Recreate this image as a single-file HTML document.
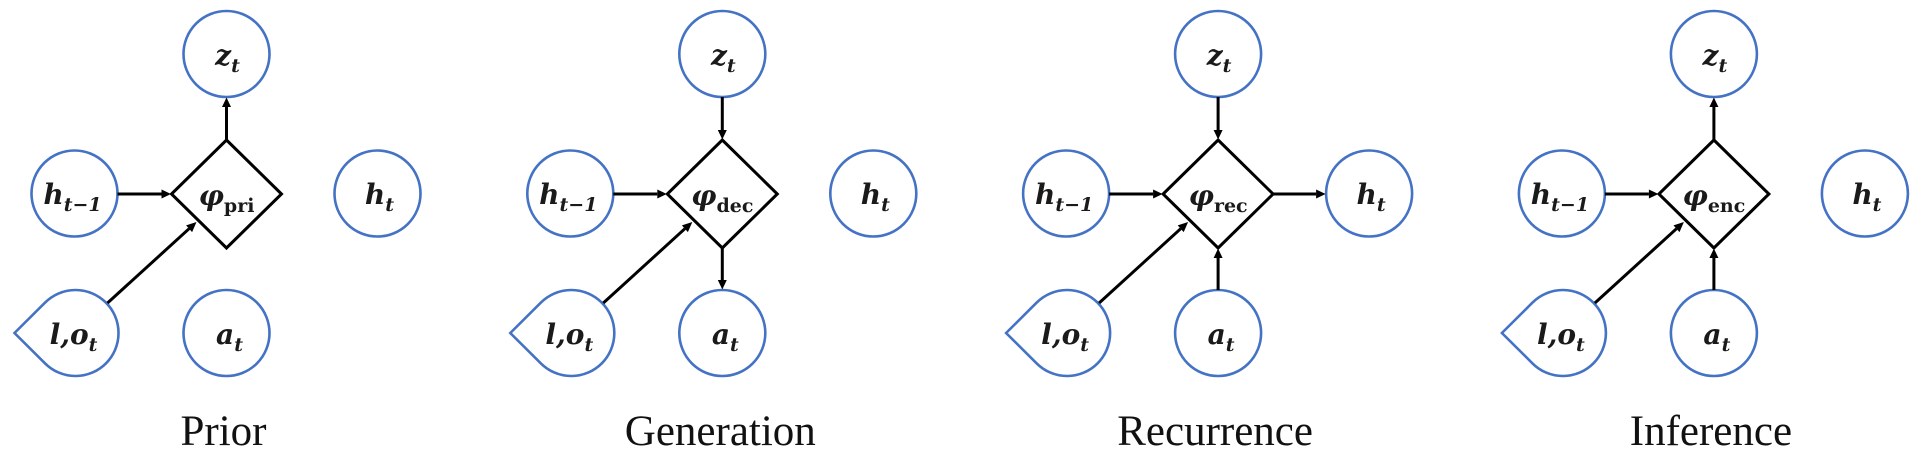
<!DOCTYPE html>
<html>
<head>
<meta charset="utf-8">
<style>
  html, body { margin: 0; padding: 0; background: #ffffff; }
  svg { display: block; }
  .c { fill: #ffffff; stroke: #4472C4; stroke-width: 2.6; }
  .d { fill: #ffffff; stroke: #000000; stroke-width: 3; stroke-linejoin: miter; }
  .l { stroke: #000000; stroke-width: 3; fill: none; }
  .h { fill: #000000; stroke: none; }
  .m { font-family: "DejaVu Serif", "Liberation Serif", serif; font-style: italic; font-weight: bold; font-size: 28px; fill: #1a1a1a; }
  .s { font-size: 19px; }
  .u { font-style: normal; }
  .cap { font-family: "Liberation Serif", serif; font-size: 43px; fill: #111111; }
</style>
</head>
<body>
<svg width="1921" height="460" viewBox="0 0 1921 460" xmlns="http://www.w3.org/2000/svg">
  <rect x="0" y="0" width="1921" height="460" fill="#ffffff"/>

  <!-- ===== Panel 1: Prior ===== -->
  <g transform="translate(226.5,0)">
    <circle class="c" cx="0" cy="54" r="43"/>
    <circle class="c" cx="-152" cy="193.5" r="43"/>
    <circle class="c" cx="151" cy="193.5" r="43"/>
    <circle class="c" cx="0" cy="333" r="43"/>
    <path class="c" d="M -212 333 L -181.4 302.6 A 43 43 0 1 1 -181.4 363.4 Z"/>
    <path class="d" d="M 0 140 L 55 194 L 0 248 L -55 194 Z"/>
    <line class="l" x1="-109" y1="194" x2="-65" y2="194"/>
    <polygon class="h" points="-55.5,194 -65,189.5 -65,198.5"/>
    <line class="l" x1="-119" y1="303" x2="-37.4" y2="228.7"/>
    <polygon class="h" points="-30,222 -34.4,232.1 -40.4,225.4"/>
    <line class="l" x1="0" y1="140" x2="0" y2="107"/>
    <polygon class="h" points="0,97.5 -4.5,107 4.5,107"/>
    <text class="m" x="1" y="65" text-anchor="middle">z<tspan class="s" dy="7">t</tspan></text>
    <text class="m" x="-154" y="204" text-anchor="middle">h<tspan class="s" dy="7">t−1</tspan></text>
    <text class="m" x="153" y="204" text-anchor="middle">h<tspan class="s" dy="7">t</tspan></text>
    <text class="m" x="3" y="344" text-anchor="middle">a<tspan class="s" dy="7">t</tspan></text>
    <text class="m" x="-153" y="344" text-anchor="middle">l,o<tspan class="s" dy="7">t</tspan></text>
    <text class="m" x="0" y="205" text-anchor="middle">φ<tspan class="s u" dy="7">pri</tspan></text>
    <text class="cap" x="-3" y="445" text-anchor="middle">Prior</text>
  </g>

  <!-- ===== Panel 2: Generation ===== -->
  <g transform="translate(722.3,0)">
    <circle class="c" cx="0" cy="54" r="43"/>
    <circle class="c" cx="-152" cy="193.5" r="43"/>
    <circle class="c" cx="151" cy="193.5" r="43"/>
    <circle class="c" cx="0" cy="333" r="43"/>
    <path class="c" d="M -212 333 L -181.4 302.6 A 43 43 0 1 1 -181.4 363.4 Z"/>
    <path class="d" d="M 0 140 L 55 194 L 0 248 L -55 194 Z"/>
    <line class="l" x1="-109" y1="194" x2="-65" y2="194"/>
    <polygon class="h" points="-55.5,194 -65,189.5 -65,198.5"/>
    <line class="l" x1="-119" y1="303" x2="-37.4" y2="228.7"/>
    <polygon class="h" points="-30,222 -34.4,232.1 -40.4,225.4"/>
    <line class="l" x1="0" y1="97" x2="0" y2="130"/>
    <polygon class="h" points="0,139.5 -4.5,130 4.5,130"/>
    <line class="l" x1="0" y1="248" x2="0" y2="280"/>
    <polygon class="h" points="0,289.5 -4.5,280 4.5,280"/>
    <text class="m" x="1" y="65" text-anchor="middle">z<tspan class="s" dy="7">t</tspan></text>
    <text class="m" x="-154" y="204" text-anchor="middle">h<tspan class="s" dy="7">t−1</tspan></text>
    <text class="m" x="153" y="204" text-anchor="middle">h<tspan class="s" dy="7">t</tspan></text>
    <text class="m" x="3" y="344" text-anchor="middle">a<tspan class="s" dy="7">t</tspan></text>
    <text class="m" x="-153" y="344" text-anchor="middle">l,o<tspan class="s" dy="7">t</tspan></text>
    <text class="m" x="0" y="205" text-anchor="middle">φ<tspan class="s u" dy="7">dec</tspan></text>
    <text class="cap" x="-2" y="445" text-anchor="middle">Generation</text>
  </g>

  <!-- ===== Panel 3: Recurrence ===== -->
  <g transform="translate(1218.1,0)">
    <circle class="c" cx="0" cy="54" r="43"/>
    <circle class="c" cx="-152" cy="193.5" r="43"/>
    <circle class="c" cx="151" cy="193.5" r="43"/>
    <circle class="c" cx="0" cy="333" r="43"/>
    <path class="c" d="M -212 333 L -181.4 302.6 A 43 43 0 1 1 -181.4 363.4 Z"/>
    <path class="d" d="M 0 140 L 55 194 L 0 248 L -55 194 Z"/>
    <line class="l" x1="-109" y1="194" x2="-65" y2="194"/>
    <polygon class="h" points="-55.5,194 -65,189.5 -65,198.5"/>
    <line class="l" x1="-119" y1="303" x2="-37.4" y2="228.7"/>
    <polygon class="h" points="-30,222 -34.4,232.1 -40.4,225.4"/>
    <line class="l" x1="0" y1="97" x2="0" y2="130"/>
    <polygon class="h" points="0,139.5 -4.5,130 4.5,130"/>
    <line class="l" x1="0" y1="290" x2="0" y2="258"/>
    <polygon class="h" points="0,248.5 -4.5,258 4.5,258"/>
    <line class="l" x1="55" y1="194" x2="98" y2="194"/>
    <polygon class="h" points="107.5,194 98,189.5 98,198.5"/>
    <text class="m" x="1" y="65" text-anchor="middle">z<tspan class="s" dy="7">t</tspan></text>
    <text class="m" x="-154" y="204" text-anchor="middle">h<tspan class="s" dy="7">t−1</tspan></text>
    <text class="m" x="153" y="204" text-anchor="middle">h<tspan class="s" dy="7">t</tspan></text>
    <text class="m" x="3" y="344" text-anchor="middle">a<tspan class="s" dy="7">t</tspan></text>
    <text class="m" x="-153" y="344" text-anchor="middle">l,o<tspan class="s" dy="7">t</tspan></text>
    <text class="m" x="0" y="205" text-anchor="middle">φ<tspan class="s u" dy="7">rec</tspan></text>
    <text class="cap" x="-3" y="445" text-anchor="middle">Recurrence</text>
  </g>

  <!-- ===== Panel 4: Inference ===== -->
  <g transform="translate(1713.9,0)">
    <circle class="c" cx="0" cy="54" r="43"/>
    <circle class="c" cx="-152" cy="193.5" r="43"/>
    <circle class="c" cx="151" cy="193.5" r="43"/>
    <circle class="c" cx="0" cy="333" r="43"/>
    <path class="c" d="M -212 333 L -181.4 302.6 A 43 43 0 1 1 -181.4 363.4 Z"/>
    <path class="d" d="M 0 140 L 55 194 L 0 248 L -55 194 Z"/>
    <line class="l" x1="-109" y1="194" x2="-65" y2="194"/>
    <polygon class="h" points="-55.5,194 -65,189.5 -65,198.5"/>
    <line class="l" x1="-119" y1="303" x2="-37.4" y2="228.7"/>
    <polygon class="h" points="-30,222 -34.4,232.1 -40.4,225.4"/>
    <line class="l" x1="0" y1="140" x2="0" y2="107"/>
    <polygon class="h" points="0,97.5 -4.5,107 4.5,107"/>
    <line class="l" x1="0" y1="290" x2="0" y2="258"/>
    <polygon class="h" points="0,248.5 -4.5,258 4.5,258"/>
    <text class="m" x="1" y="65" text-anchor="middle">z<tspan class="s" dy="7">t</tspan></text>
    <text class="m" x="-154" y="204" text-anchor="middle">h<tspan class="s" dy="7">t−1</tspan></text>
    <text class="m" x="153" y="204" text-anchor="middle">h<tspan class="s" dy="7">t</tspan></text>
    <text class="m" x="3" y="344" text-anchor="middle">a<tspan class="s" dy="7">t</tspan></text>
    <text class="m" x="-153" y="344" text-anchor="middle">l,o<tspan class="s" dy="7">t</tspan></text>
    <text class="m" x="0" y="205" text-anchor="middle">φ<tspan class="s u" dy="7">enc</tspan></text>
    <text class="cap" x="-3" y="445" text-anchor="middle">Inference</text>
  </g>
</svg>
</body>
</html>
